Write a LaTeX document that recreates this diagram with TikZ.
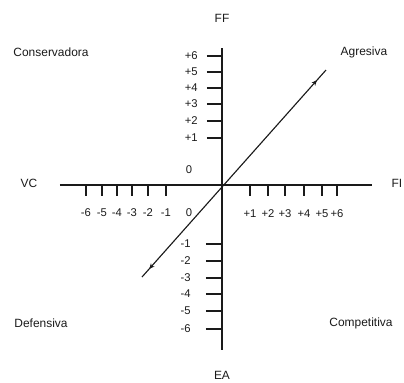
\documentclass[tikz,border=0pt]{standalone}
\usepackage{fontspec}
\setmainfont{Liberation Sans}
\usetikzlibrary{arrows.meta,decorations.markings}
\definecolor{speyaInk}{HTML}{1A1A1A}

\begin{document}
\begin{tikzpicture}[
  x=0.025cm, y=-0.025cm,
  axis/.style={draw=speyaInk,line width=1.3pt},
  tickmark/.style={draw=speyaInk,line width=1.3pt},
  vec/.style={draw=speyaInk,line width=0.8pt,postaction={decorate},
    decoration={markings,
      mark=at position 0.95 with {\arrow{Stealth[length=1.3mm,width=1.2mm]}},
      mark=at position 0.04 with {\arrowreversed{Stealth[length=1.3mm,width=1.2mm]}}}},
  quad/.style={font=\fontsize{8.5}{10}\selectfont,text=speyaInk},
  num/.style={font=\fontsize{8}{9}\selectfont,text=speyaInk,inner sep=0pt}
]
\useasboundingbox (0,0) rectangle (404,383);

% Axes
\coordinate (vtop)   at (222,48);
\coordinate (vbot)   at (222,350);
\coordinate (hleft)  at (60,185);
\coordinate (hright) at (372,185);
\draw[axis] (vtop) -- (vbot);
\draw[axis] (hleft) -- (hright);

% Axis names
\node[quad] (ff) at (222,18)  {FF};
\node[quad] (ea) at (222,375) {EA};
\node[quad] (vc) at (29,183)  {VC};
\node[quad] (fi) at (397,183) {FI};

% Quadrant names
\node[quad] (cons) at (51,52)   {Conservadora};
\node[quad] (agr)  at (364,52)  {Agresiva};
\node[quad] (def)  at (41,323)  {Defensiva};
\node[quad] (comp) at (361,323) {Competitiva};

% Ticks on FF / EA
\foreach \y/\t in {56/+6,72/+5,88/+4,104/+3,121/+2,138/+1}
  {\draw[tickmark] (207,\y) -- (222,\y);
   \node[num,anchor=east] at (198,\y) {\t};}
\foreach \y/\t in {244/-1,261/-2,278/-3,294/-4,311/-5,329/-6}
  {\draw[tickmark] (206,\y) -- (222,\y);
   \node[num,anchor=east] at (191,\y) {\t};}

% Ticks on VC / FI
\foreach \x/\t in {86/-6,102/-5,117/-4,132/-3,148/-2,166/-1}
  {\draw[tickmark] (\x,185) -- (\x,196);
   \node[num] at (\x,213) {\t};}
\foreach \x/\t in {250/+1,268/+2,285/+3,304/+4,322/+5,337/+6}
  {\draw[tickmark] (\x,185) -- (\x,196);
   \node[num] at (\x,214) {\t};}

% Zeros
\node[num] (zup) at (189,170) {0};
\node[num] (zdn) at (189,213) {0};

% Strategy vector
\coordinate (lo) at (142,277);
\coordinate (hi) at (326,70);
\draw[vec] (lo) -- (hi);
\end{tikzpicture}
\end{document}
